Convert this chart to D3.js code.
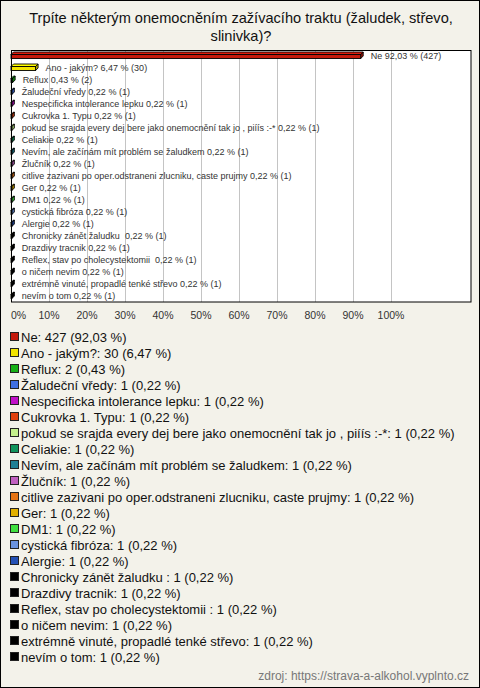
<!DOCTYPE html>
<html><head><meta charset="utf-8">
<script src="https://cdn.jsdelivr.net/npm/d3@7"></script>
<style>body{margin:0;background:#fff}svg text{white-space:pre}</style>
</head><body>
<svg id="c" width="480" height="688"></svg>
<script>
const titleLines = ["Trpíte některým onemocněním zažívacího traktu (žaludek, střevo,", "slinivka)?"];
const categories = ["Ne","Ano - jakým?","Reflux","Žaludeční vředy","Nespecificka intolerance lepku","Cukrovka 1. Typu","pokud se srajda every dej bere jako onemocnění tak jo , piíís :-*","Celiakie","Nevím, ale začínám mít problém se žaludkem","Žlučník","citlive zazivani po oper.odstraneni zlucniku, caste prujmy","Ger","DM1","cystická fibróza","Alergie","Chronicky zánět žaludku ","Drazdivy tracnik","Reflex, stav po cholecystektomii ","o ničem nevim","extrémně vinuté, propadlé tenké střevo","nevím o tom"];
const counts = [427,30,2,1,1,1,1,1,1,1,1,1,1,1,1,1,1,1,1,1,1];
const percents = [92.03,6.47,0.43,0.22,0.22,0.22,0.22,0.22,0.22,0.22,0.22,0.22,0.22,0.22,0.22,0.22,0.22,0.22,0.22,0.22,0.22];
const colors = ["#c41a0c","#f2e400","#16b016","#3f6fe2","#c010c8","#e0400e","#c4f08c","#10945c","#1f7f95","#c060c0","#e67414","#e2b000","#40e040","#6a93e0","#2450b4","#000","#000","#000","#000","#000","#000"];
const ticks = [0,10,20,30,40,50,60,70,80,90,100];
const source = "zdroj: https://strava-a-alkohol.vyplnto.cz";

const fmt = v => v.toFixed(2).replace(".", ",");
const svg = d3.select("#c");
svg.append("rect").attr("x",0.5).attr("y",0.5).attr("width",479).attr("height",687)
  .attr("fill","#f3f2ea").attr("stroke","#000");

svg.selectAll("text.title").data(titleLines).join("text")
  .attr("x",241).attr("y",(d,i)=>23+i*18).attr("text-anchor","middle")
  .attr("font-family","Arial, Liberation Sans, sans-serif").attr("font-size",14.6).attr("fill","#111").text(d=>d);

const x = d3.scaleLinear().domain([0,100]).range([11,391]);
const y = d3.scaleBand().domain(categories).range([50,302]).padding(0);

svg.append("rect").attr("x",11.5).attr("y",50.5).attr("width",459.5).attr("height",251.5)
  .attr("fill","#fff");
svg.selectAll("line.grid").data(ticks.slice(1)).join("line")
  .attr("x1",d=>Math.round(x(d))+0.5).attr("x2",d=>Math.round(x(d))+0.5)
  .attr("y1",50).attr("y2",302).attr("stroke","#c4c4c4");

const data = categories.map((c,i)=>({c, n:counts[i], p:percents[i], col:colors[i]}));
const g = svg.append("g");
const dd = 2.5;
data.forEach(d=>{
  const cy = y(d.c) + y.bandwidth()/2;
  const x0 = x(0), x1 = x(d.p);
  const top = cy-1.5, bot = cy+2.5;
  g.append("path").attr("d",`M${x1},${top}L${x1+dd},${top-dd}L${x1+dd},${bot-dd}L${x1},${bot}Z`)
    .attr("fill",d3.color(d.col).darker(0.6)).attr("stroke","#000").attr("stroke-width",0.9).attr("stroke-linejoin","round");
  g.append("path").attr("d",`M${x0},${top}L${x0+dd},${top-dd}L${x1+dd},${top-dd}L${x1},${top}Z`)
    .attr("fill",d3.color(d.col).brighter(0.3)).attr("stroke","#000").attr("stroke-width",0.9).attr("stroke-linejoin","round");
  g.append("rect").attr("x",x0).attr("y",top).attr("width",Math.max(0,x1-x0)).attr("height",bot-top)
    .attr("fill",d.col).attr("stroke","#000").attr("stroke-width",0.9);
  g.append("text").attr("x",x1+10).attr("y",cy+3).attr("font-family","Arial, Liberation Sans, sans-serif")
    .attr("font-size",9).attr("fill","#333").text(`${d.c} ${fmt(d.p)} % (${d.n})`);
});

svg.append("rect").attr("x",11.5).attr("y",50.5).attr("width",459.5).attr("height",251.5)
  .attr("fill","none").attr("stroke","#000");

svg.selectAll("text.tick").data(ticks).join("text")
  .attr("x",d=>d===0?11:x(d)).attr("y",319).attr("text-anchor",d=>d===0?"start":"middle")
  .attr("font-family","Arial, Liberation Sans, sans-serif").attr("font-size",10.5).attr("fill","#333")
  .text(d=>d+"%");

const lg = svg.append("g");
data.forEach((d,i)=>{
  const cy = 337 + i*16;
  lg.append("rect").attr("x",10.5).attr("y",cy-4.5).attr("width",8).attr("height",8)
    .attr("fill",d.col).attr("stroke","#222");
  lg.append("text").attr("x",21).attr("y",cy+4.7).attr("font-family","Arial, Liberation Sans, sans-serif")
    .attr("font-size",13).attr("fill","#111").text(`${d.c}: ${d.n} (${fmt(d.p)} %)`);
});

svg.append("text").attr("x",469).attr("y",680).attr("text-anchor","end")
  .attr("font-family","Arial, Liberation Sans, sans-serif").attr("font-size",12).attr("fill","#777").text(source);
</script>
</body></html>
